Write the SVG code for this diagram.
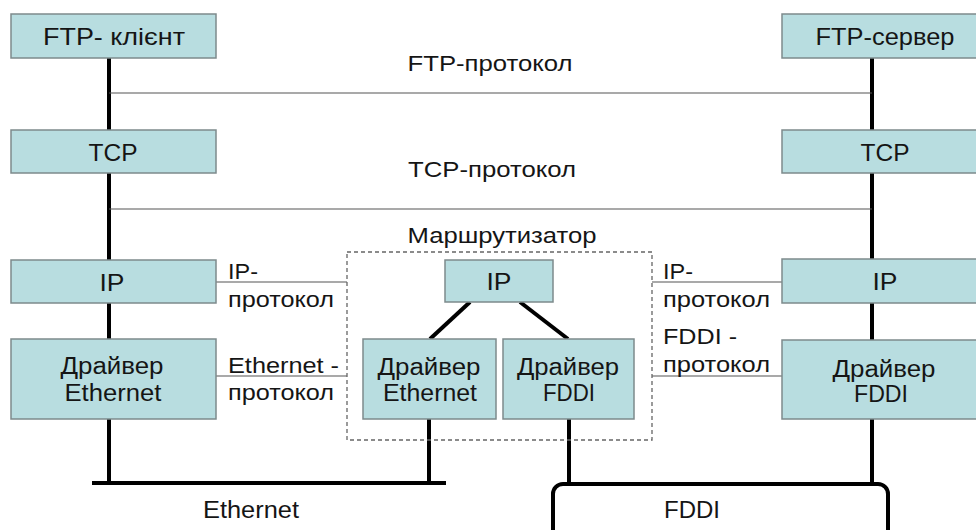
<svg xmlns="http://www.w3.org/2000/svg" width="976" height="530" viewBox="0 0 976 530">
  <style>
    .box { fill: #b8dde0; stroke: #7d8a8c; stroke-width: 1.5; }
    .t { font-family: "Liberation Sans", Arial, sans-serif; fill: #151515; }
    .big { font-size: 23px; text-anchor: middle; }
    .lbl { font-size: 22px; }
    .mid { text-anchor: middle; }
    .stack { stroke: #000; stroke-width: 4; fill: none; }
    .proto { stroke: #555; stroke-width: 1.2; fill: none; }
    .link { stroke: #000; stroke-width: 4; fill: none; stroke-linecap: butt; }
  </style>
  <rect width="976" height="530" fill="#ffffff"/>

  <!-- vertical stacks, buses and protocol lines -->
  <g id="connectors">
    <line class="stack" x1="109" y1="58" x2="109" y2="483"/>
    <line class="stack" x1="872" y1="58" x2="872" y2="485"/>
    <line class="stack" x1="429" y1="419" x2="429" y2="483"/>
    <line class="stack" x1="569" y1="419" x2="569" y2="485"/>
    <line class="link" x1="92" y1="483" x2="446" y2="483"/>
    <line class="link" x1="470" y1="302" x2="430" y2="339"/>
    <line class="link" x1="520" y1="302" x2="568" y2="339"/>
    <line class="proto" x1="109" y1="93" x2="872" y2="93"/>
    <line class="proto" x1="109" y1="209" x2="872" y2="209"/>
    <line class="proto" x1="216" y1="282" x2="347" y2="282"/>
    <line class="proto" x1="216" y1="376" x2="347" y2="376"/>
    <line class="proto" x1="652" y1="282" x2="782" y2="282"/>
    <line class="proto" x1="652" y1="376" x2="782" y2="376"/>
  </g>

  <!-- router outline -->
  <g id="router">
    <rect x="347" y="252" width="305" height="188" fill="none" stroke="#666" stroke-width="1.3" stroke-dasharray="4 3"/>
    <text class="t mid" x="502" y="243" font-size="22" textLength="189" lengthAdjust="spacingAndGlyphs">Маршрутизатор</text>
  </g>

  <g id="ftp-client">
    <rect class="box" x="11" y="14" width="205" height="44"/>
    <text class="t big" x="114" y="45" textLength="142" lengthAdjust="spacingAndGlyphs">FTP- клієнт</text>
  </g>
  <g id="ftp-server">
    <rect class="box" x="782" y="14" width="206" height="44"/>
    <text class="t big" x="885" y="45" textLength="139" lengthAdjust="spacingAndGlyphs">FTP-сервер</text>
  </g>
  <g id="tcp-left">
    <rect class="box" x="11" y="130" width="205" height="43"/>
    <text class="t big" x="113" y="161" textLength="49" lengthAdjust="spacingAndGlyphs">TCP</text>
  </g>
  <g id="tcp-right">
    <rect class="box" x="782" y="130" width="206" height="43"/>
    <text class="t big" x="885" y="161" textLength="49" lengthAdjust="spacingAndGlyphs">TCP</text>
  </g>
  <g id="ip-left">
    <rect class="box" x="11" y="260" width="205" height="43"/>
    <text class="t big" x="112" y="291" textLength="25" lengthAdjust="spacingAndGlyphs">IP</text>
  </g>
  <g id="ip-right">
    <rect class="box" x="782" y="259" width="206" height="44"/>
    <text class="t big" x="885" y="290" textLength="25" lengthAdjust="spacingAndGlyphs">IP</text>
  </g>
  <g id="ip-router">
    <rect class="box" x="445" y="260" width="108" height="42"/>
    <text class="t big" x="499" y="290" textLength="25" lengthAdjust="spacingAndGlyphs">IP</text>
  </g>
  <g id="drv-eth-left">
    <rect class="box" x="11" y="339" width="205" height="80"/>
    <text class="t big" x="112" y="374" textLength="103" lengthAdjust="spacingAndGlyphs">Драйвер</text>
    <text class="t big" x="113" y="401" textLength="97" lengthAdjust="spacingAndGlyphs">Ethernet</text>
  </g>
  <g id="drv-eth-router">
    <rect class="box" x="363" y="339" width="133" height="80"/>
    <text class="t big" x="429" y="375" textLength="103" lengthAdjust="spacingAndGlyphs">Драйвер</text>
    <text class="t big" x="430" y="401" textLength="94" lengthAdjust="spacingAndGlyphs">Ethernet</text>
  </g>
  <g id="drv-fddi-router">
    <rect class="box" x="503" y="339" width="131" height="80"/>
    <text class="t big" x="568" y="375" textLength="102" lengthAdjust="spacingAndGlyphs">Драйвер</text>
    <text class="t big" x="569" y="401" textLength="52" lengthAdjust="spacingAndGlyphs">FDDI</text>
  </g>
  <g id="drv-fddi-right">
    <rect class="box" x="782" y="340" width="206" height="79"/>
    <text class="t big" x="884" y="377" textLength="103" lengthAdjust="spacingAndGlyphs">Драйвер</text>
    <text class="t big" x="881" y="402" textLength="54" lengthAdjust="spacingAndGlyphs">FDDI</text>
  </g>

  <g id="fddi-ring">
    <rect x="553" y="484" width="335" height="70" rx="10" ry="10" fill="none" stroke="#000" stroke-width="4"/>
    <text class="t big" x="692" y="518" textLength="56" lengthAdjust="spacingAndGlyphs">FDDI</text>
  </g>
  <g id="ethernet-bus-label">
    <text class="t big" x="251" y="518" textLength="96" lengthAdjust="spacingAndGlyphs">Ethernet</text>
  </g>

  <!-- protocol labels -->
  <g id="labels">
    <text class="t mid" x="490" y="71" font-size="22" textLength="165" lengthAdjust="spacingAndGlyphs">FTP-протокол</text>
    <text class="t mid" x="492" y="177" font-size="22" textLength="168" lengthAdjust="spacingAndGlyphs">TCP-протокол</text>
    <text class="t lbl" x="228" y="279" textLength="30" lengthAdjust="spacingAndGlyphs">IP-</text>
    <text class="t lbl" x="228" y="307" textLength="106" lengthAdjust="spacingAndGlyphs">протокол</text>
    <text class="t lbl" x="228" y="373" textLength="111" lengthAdjust="spacingAndGlyphs">Ethernet -</text>
    <text class="t lbl" x="228" y="400" textLength="106" lengthAdjust="spacingAndGlyphs">протокол</text>
    <text class="t lbl" x="663" y="279" textLength="30" lengthAdjust="spacingAndGlyphs">IP-</text>
    <text class="t lbl" x="663" y="307" textLength="107" lengthAdjust="spacingAndGlyphs">протокол</text>
    <text class="t lbl" x="663" y="344" textLength="74" lengthAdjust="spacingAndGlyphs">FDDI -</text>
    <text class="t lbl" x="663" y="372" textLength="107" lengthAdjust="spacingAndGlyphs">протокол</text>
  </g>
</svg>
